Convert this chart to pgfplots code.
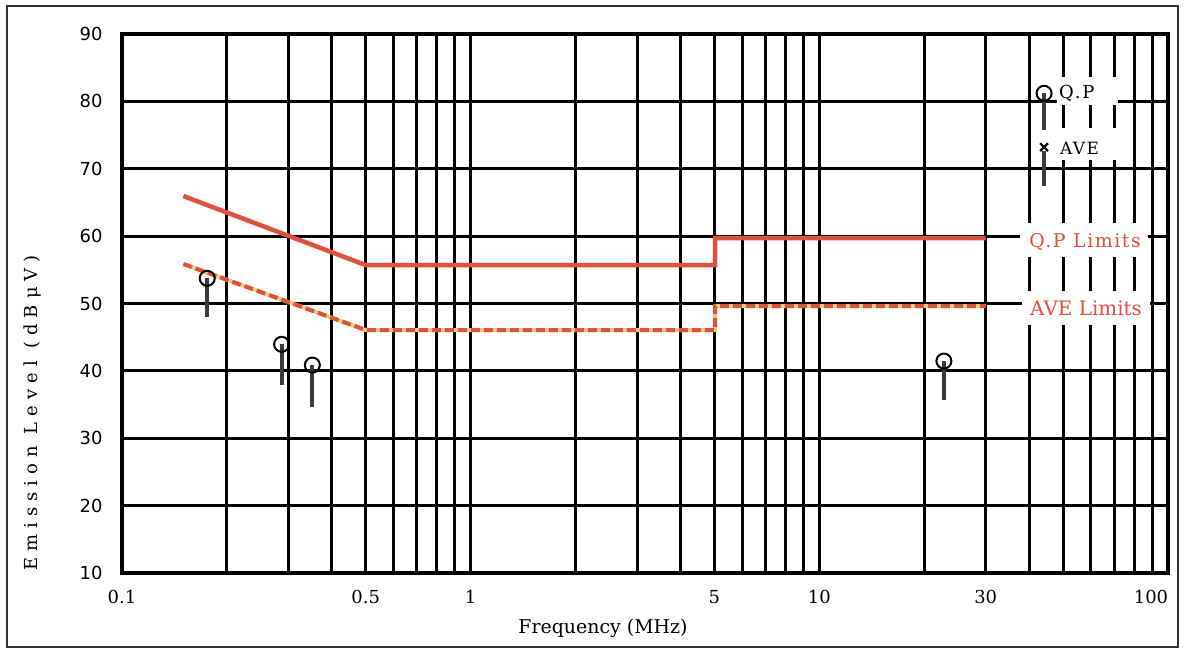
\documentclass[border=0pt]{standalone}
\usepackage{pgfplots}
\pgfplotsset{compat=1.18}
\usepackage{fontspec}
\setmainfont{DejaVu Serif}
\newfontfamily\ysans{DejaVu Sans}
\definecolor{limred}{RGB}{224,80,58}
\definecolor{limyel}{RGB}{238,205,120}
\definecolor{stickc}{RGB}{60,60,55}
\begin{document}
\begin{tikzpicture}[x=1bp,y=1bp]
\useasboundingbox (0,0) rectangle (1188,650);
\draw[line width=2bp, black!80] (7,3) rectangle (1178,644);
\begin{axis}[
 at={(122bp,77bp)}, anchor=south west,
 scale only axis, width=1046bp, height=539bp,
 xmode=log, xmin=0.1, xmax=100, ymin=10, ymax=90,
 xtick={0.1,0.5,1,5,10,30,100},
 xticklabels={0.1,0.5,1,5,10,30,\makebox[0pt][r]{100}},
 minor xtick={0.2,0.3,0.4,0.6,0.7,0.8,0.9,2,3,4,6,7,8,9,20,40,50,60,70,80,90},
 ytick={10,20,...,90},
 grid=both,
 major grid style={black, line width=3bp},
 minor grid style={black, line width=3bp},
 major tick length=0pt, minor tick length=0pt,
 axis line style={black, line width=3.4bp},
 /pgf/number format/assume math mode=true,
 xticklabel style={font=\fontsize{18}{20}\selectfont, yshift=-14bp},
 yticklabel style={font=\ysans\fontsize{18}{20}\selectfont, xshift=-16bp},
 clip=false,
 unbounded coords=jump,
]
% Q.P limits
\addplot[limred, line width=4.5bp, line join=miter] coordinates {(0.15,65.95) (0.5,55.7) (5.02,55.7) (5.02,59.7) (30,59.7)};
% AVE limits
\addplot[limyel, line width=4bp] coordinates {(0.15,55.86) (0.5,46.06) (5.02,46.06) (5.02,49.6) (30,49.6)};
\addplot[limred, line width=4bp, dash pattern=on 9bp off 4bp] coordinates {(0.15,55.86) (0.5,46.06) (5.02,46.06) (5.02,49.6) (30,49.6)};
% sticks
\addplot[stickc, line width=4bp, no marks] coordinates {
 (0.1756,53.74) (0.1756,48.04) (0.1756,nan)
 (0.287,43.94) (0.287,37.9) (0.287,nan)
 (0.3515,40.86) (0.3515,34.68) (0.3515,nan)
 (22.76,41.46) (22.76,35.67) (22.76,nan)
 (44.1,81.2) (44.1,75.7) (44.1,nan)
 (44.1,72.7) (44.1,67.4)};
% Q.P points
\addplot[only marks, mark=o, mark size=7.5bp, mark options={line width=2bp, black}] coordinates {
 (0.1756,53.74) (0.287,43.94) (0.3515,40.86) (22.76,41.46) (44.1,81.2)};
% AVE legend mark
\addplot[only marks, mark=x, mark size=5.5bp, mark options={line width=2.2bp, black}] coordinates {(44.1,73.2)};
\end{axis}
\node[fill=white, inner sep=0pt, minimum width=61bp, minimum height=28bp] at (1087,559) {};
\node[anchor=west, inner sep=0pt, font=\fontsize{18}{20}\selectfont\addfontfeature{LetterSpace=10}] at (1059,557) {Q.P};
\node[fill=white, inner sep=0pt, minimum width=61bp, minimum height=32bp] at (1087,506) {};
\node[anchor=west, inner sep=0pt, font=\fontsize{17}{19}\selectfont\addfontfeature{LetterSpace=8}] at (1060,502) {AVE};
\node[fill=white, inner sep=0pt, minimum width=128bp, minimum height=34bp] at (1084,410) {};
\node[inner sep=0pt, text=limred, font=\fontsize{19}{21}\selectfont\addfontfeature{LetterSpace=8}] at (1085,408) {Q.P Limits};
\node[fill=white, inner sep=0pt, minimum width=128bp, minimum height=34bp] at (1086,342) {};
\node[inner sep=0pt, text=limred, font=\fontsize{20}{22}\selectfont] at (1086,342) {AVE Limits};
\node[font=\fontsize{19}{21}\selectfont] at (603,22) {Frequency (MHz)};
\node[rotate=90, font=\fontsize{18}{20}\selectfont\addfontfeature{LetterSpace=34}] at (33,237) {Emission Level (dBμV)};
\end{tikzpicture}
\end{document}
